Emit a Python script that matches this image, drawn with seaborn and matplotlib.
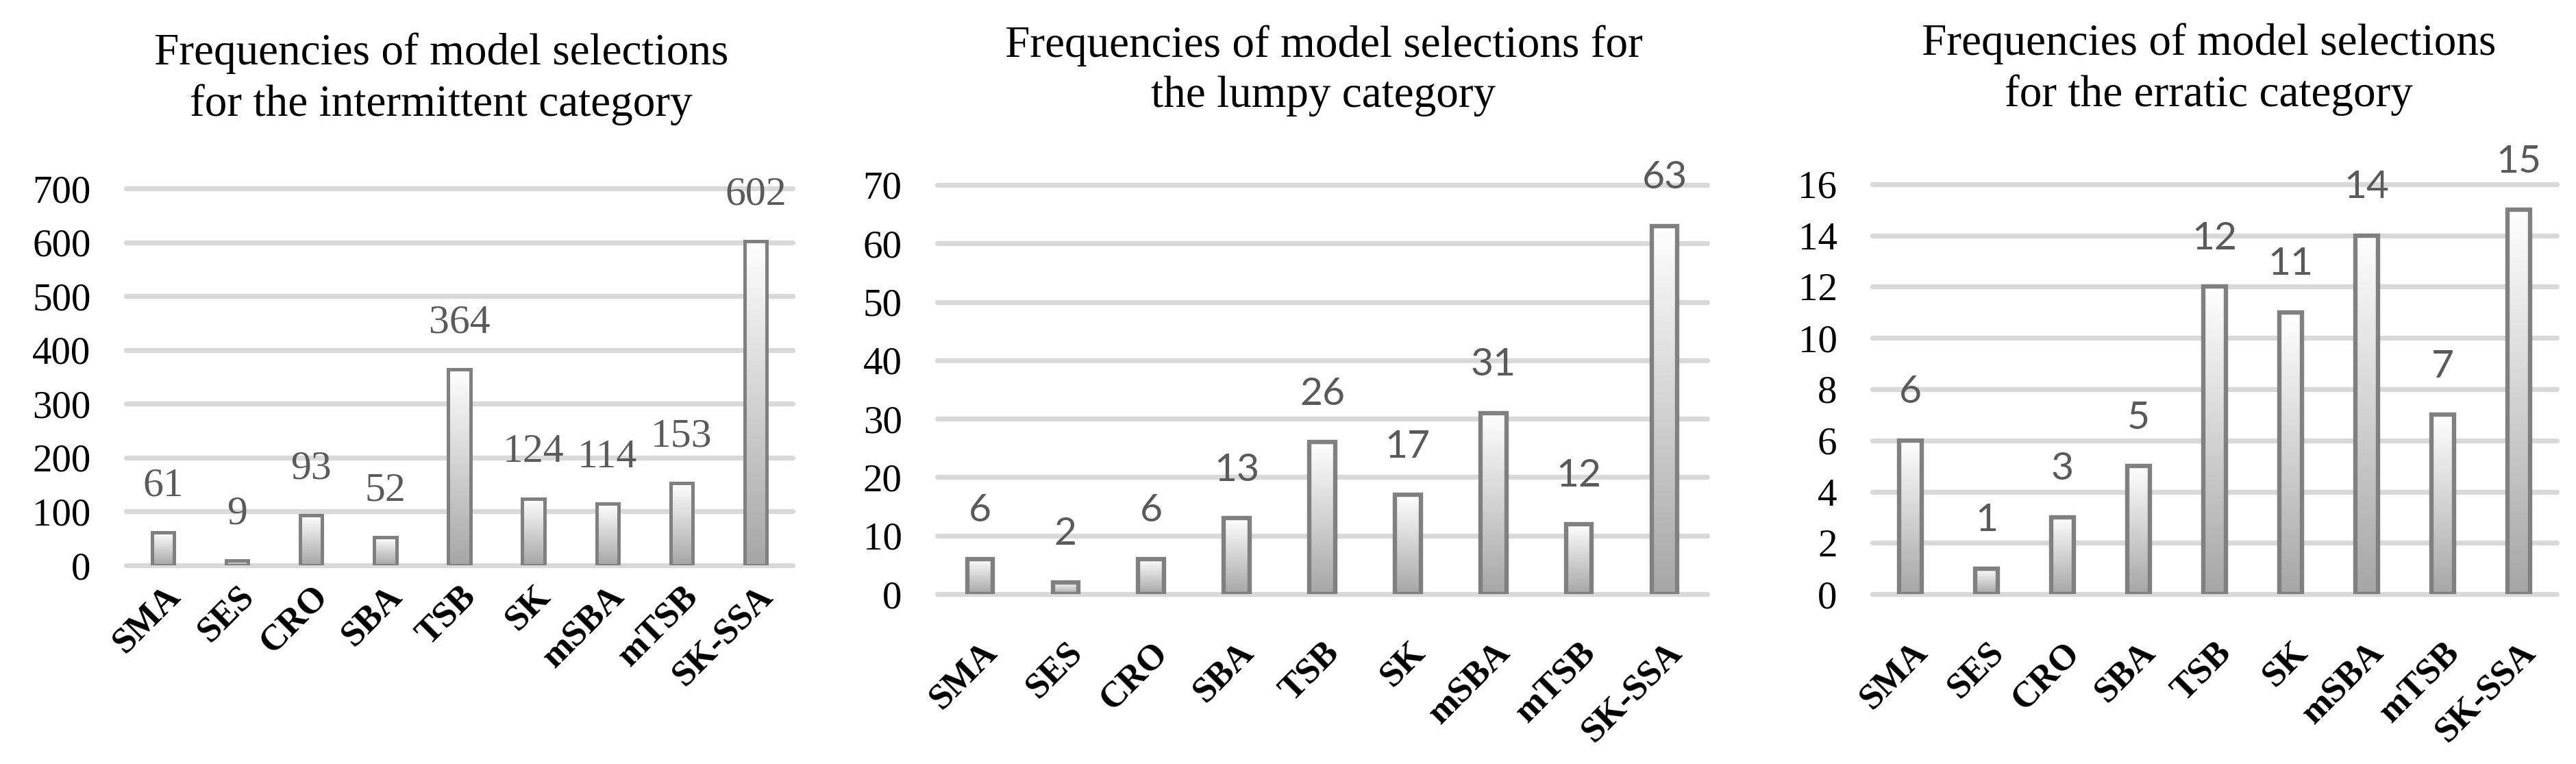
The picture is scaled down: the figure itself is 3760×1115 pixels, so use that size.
import numpy as np
import pandas as pd
import matplotlib
matplotlib.use("Agg")
import matplotlib.pyplot as plt
import seaborn as sns
from matplotlib.colors import LinearSegmentedColormap

models = ["SMA", "SES", "CRO", "SBA", "TSB", "SK", "mSBA", "mTSB", "SK-SSA"]
intermittent = [61, 9, 93, 52, 364, 124, 114, 153, 602]
lumpy = [6, 2, 6, 13, 26, 17, 31, 12, 63]
erratic = [6, 1, 3, 5, 12, 11, 14, 7, 15]

titles = [
    "Frequencies of model selections\nfor the intermittent category",
    "Frequencies of model selections for\nthe lumpy category",
    "Frequencies of model selections\nfor the erratic category",
]
ymax = [700, 70, 16]
ystep = [100, 10, 2]

sns.set_theme(style="white")
plt.rcParams["font.family"] = ["Liberation Serif", "DejaVu Serif"]

W, H = 3760, 1115
fig = plt.figure(figsize=(W / 100, H / 100), dpi=100)

# per panel: axes box in pixels (left, right, top gridline, zero gridline)
boxes = [(184, 1157, 275, 825), (1368, 2492, 270, 867), (2733, 3732, 269, 867)]
title_pos = [(644, 115), (1932, 103), (3224, 101)]
label_fonts = ["Liberation Serif", "Lato", "Lato"]
label_size = [43, 41, 41]
label_off = [29, 32, 32]
edge_w = [3.6, 4.6, 4.6]
xpad = [15, 44, 44]

grad = LinearSegmentedColormap.from_list("g", ["#a6a6a6", "#ffffff"])
gimg = np.linspace(0, 1, 256).reshape(-1, 1)

for i, vals in enumerate([intermittent, lumpy, erratic]):
    l, r, t, b = boxes[i]
    ax = fig.add_axes([l / W, 1 - b / H, (r - l) / W, (b - t) / H])
    df = pd.DataFrame({"model": models, "count": vals})
    sns.barplot(data=df, x="model", y="count", ax=ax, width=0.30,
                facecolor="none", edgecolor="#808080", linewidth=edge_w[i],
                zorder=3)
    # vertical white-to-grey gradient inside every bar
    for p in ax.patches:
        x0, w, h = p.get_x(), p.get_width(), p.get_height()
        ax.imshow(gimg, extent=[x0, x0 + w, 0, h], origin="lower",
                  cmap=grad, aspect="auto", zorder=2.5, interpolation="bilinear")
    for k, v in enumerate(vals):
        ax.annotate(str(v), (k, v), xytext=(0, label_off[i]), textcoords="offset points",
                    ha="center", va="bottom", fontsize=label_size[i], color="#5a5a5a",
                    family=label_fonts[i])
    ax.set_xlim(-0.5, len(models) - 0.5)
    ax.set_ylim(0, ymax[i])
    ax.set_yticks(np.arange(0, ymax[i] + 1, ystep[i]))
    ax.yaxis.grid(True, color="#d9d9d9", linewidth=5.2, zorder=0)
    for g in ax.get_ygridlines():
        g.set_clip_on(False)
    ax.set_axisbelow(True)
    for s in ax.spines.values():
        s.set_visible(False)
    ax.set_xlabel("")
    ax.set_ylabel("")
    ax.tick_params(axis="y", labelsize=41, pad=37, length=0, labelcolor="black")
    ax.tick_params(axis="x", pad=xpad[i], length=0)
    ax.set_xticks(range(len(models)))
    ax.set_xticklabels(models, rotation=45, ha="right", rotation_mode="anchor",
                       fontsize=38, fontweight="bold", color="black")
    tx, ty = title_pos[i]
    fig.text(tx / W, 1 - ty / H, titles[i], ha="center", va="center",
             fontsize=47, linespacing=1.3, color="black")

fig.savefig("out.png", dpi=100)
